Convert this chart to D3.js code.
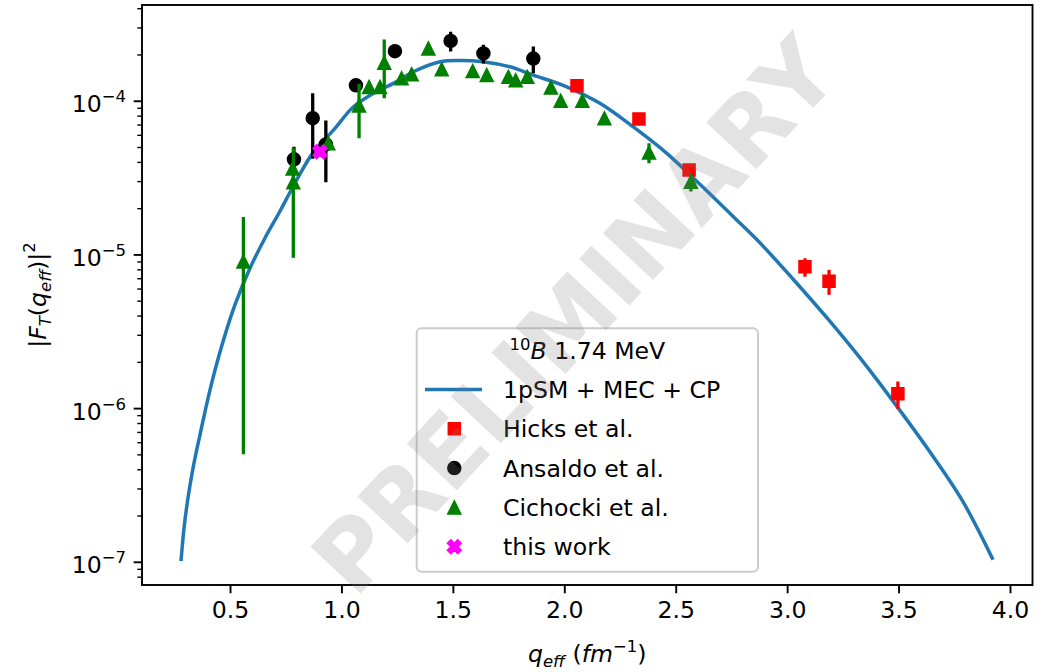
<!DOCTYPE html>
<html>
<head>
<meta charset="utf-8">
<script src="https://cdn.jsdelivr.net/npm/d3@7"></script>
<style>
  body { margin: 0; background: #fff; }
  text { font-family: "DejaVu Sans", sans-serif; }
</style>
</head>
<body>
<svg id="chart" width="1046" height="672"></svg>
<script>
// Theory: 1pSM + MEC + CP transverse form factor
const theoryQ = [0.280, 0.294, 0.312, 0.334, 0.365, 0.410, 0.464, 0.522, 0.590, 0.657,
  0.724, 0.799, 0.874, 0.964, 1.053, 1.143, 1.233, 1.323, 1.442, 1.530,
  1.635, 1.756, 1.860, 2.011, 2.160, 2.308, 2.460, 2.612, 2.788, 2.878, 3.026, 3.179,
  3.327, 3.475, 3.641, 3.785, 3.924];
const theoryF = [1.01e-7, 1.68e-7, 2.64e-7, 4.07e-7, 6.68e-7, 1.31e-6, 2.57e-6, 4.69e-6, 8.15e-6, 1.28e-5,
  1.91e-5, 3.05e-5, 4.63e-5, 6.44e-5, 9.10e-5, 1.117e-4, 1.297e-4, 1.545e-4, 1.795e-4, 1.83e-4,
  1.795e-4, 1.663e-4, 1.469e-4, 1.233e-4, 9.62e-5, 6.78e-5, 4.55e-5, 2.83e-5, 1.60e-5, 1.19e-5, 6.92e-6, 3.86e-6,
  2.12e-6, 1.11e-6, 5.18e-7, 2.52e-7, 1.03e-7];

// Hicks et al.
const hicksQ = [2.057, 2.335, 2.560, 3.080, 3.188, 3.497];
const hicksF = [1.25e-4, 7.6e-5, 3.54e-5, 8.3e-6, 6.7e-6, 1.24e-6];
const hicksErr = [5e-6, 3e-6, 2e-6, 1.14e-6, 1.24e-6, 2.5e-7];

// Ansaldo et al.
const ansaldoQ = [0.787, 0.871, 0.930, 1.065, 1.240, 1.490, 1.637, 1.861];
const ansaldoF = [4.16e-5, 7.7e-5, 5.2e-5, 1.26e-4, 2.1e-4, 2.45e-4, 2.03e-4, 1.88e-4];
const ansaldoErr = [8.6e-6, 3.5e-5, 2.25e-5, 8e-6, 1e-5, 3.6e-5, 2.8e-5, 3.7e-5];

// Cichocki et al.
const cichockiQ = [0.560, 0.781, 0.784, 0.941, 1.079, 1.124, 1.173, 1.192, 1.270, 1.315, 1.390,
  1.450, 1.589, 1.652, 1.749, 1.782, 1.834, 1.940, 1.984, 2.081, 2.180, 2.380, 2.568];
const cichockiF = [9.0e-6, 3.63e-5, 2.95e-5, 5.28e-5, 9.3e-5, 1.23e-4, 1.23e-4, 1.77e-4, 1.40e-4, 1.49e-4, 2.19e-4,
  1.60e-4, 1.56e-4, 1.47e-4, 1.43e-4, 1.36e-4, 1.43e-4, 1.22e-4, 1.00e-4, 1.00e-4, 7.68e-5, 4.60e-5, 2.97e-5];
const cichockiErr = [8.5e-6, 2e-6, 2.0e-5, 3e-6, 3.6e-5, 5e-6, 5e-6, 7.3e-5, 5e-6, 5e-6, 1.5e-5,
  4e-6, 4e-6, 4e-6, 4e-6, 4e-6, 4e-6, 4e-6, 3e-6, 3e-6, 3e-6, 6.8e-6, 4e-6];

// This work
const thisQ = [0.904];
const thisF = [4.65e-5];

const xTicks = [0.5, 1.0, 1.5, 2.0, 2.5, 3.0, 3.5, 4.0];
const yTicks = [1e-7, 1e-6, 1e-5, 1e-4];
const yTickExp = ["\u22127", "\u22126", "\u22125", "\u22124"];

const legendTitle = "1.74 MeV";
const legendLabels = ["1pSM + MEC + CP", "Hicks et al.", "Ansaldo et al.", "Cichocki et al.", "this work"];

const svg = d3.select("#chart");
svg.append("rect").attr("width", 1046).attr("height", 672).attr("fill", "#fff");

const L = 142, R = 1032.5, T = 5, B = 585;
const x = d3.scaleLinear().domain([0.105, 4.101]).range([L, R]);
const y = d3.scaleLog().domain([Math.pow(10, -7.151), Math.pow(10, -3.377)]).range([B, T]);

const FS = 23.6;

svg.append("clipPath").attr("id", "plotclip")
  .append("rect").attr("x", L).attr("y", T).attr("width", R - L).attr("height", B - T);

const plot = svg.append("g").attr("clip-path", "url(#plotclip)");

// theory curve
const line = d3.line().x((d, i) => x(theoryQ[i])).y(d => y(d)).curve(d3.curveCatmullRom.alpha(0.5));
plot.append("path").attr("d", line(theoryF))
  .attr("fill", "none").attr("stroke", "#1f77b4").attr("stroke-width", 3.5)
  .attr("stroke-linejoin", "round");

// marker shapes
const tri = s => `M0,${-s / 2}L${s / 2},${s / 2}L${-s / 2},${s / 2}Z`;
const sq = s => `M${-s / 2},${-s / 2}h${s}v${s}h${-s}Z`;
const circ = s => d3.symbol(d3.symbolCircle, Math.PI * s * s / 4)();
const cross = () => d3.symbol(d3.symbolCross, 120)();

function series(qs, fs, errs, color, shape, rot) {
  const g = plot.append("g");
  if (errs) {
    g.selectAll("line").data(qs).join("line")
      .attr("x1", d => x(d)).attr("x2", d => x(d))
      .attr("y1", (d, i) => y(fs[i] + errs[i]))
      .attr("y2", (d, i) => y(Math.max(fs[i] - errs[i], 1e-9)))
      .attr("stroke", color).attr("stroke-width", 3.3);
  }
  g.selectAll("path").data(qs).join("path")
    .attr("d", shape)
    .attr("transform", (d, i) => `translate(${x(d)},${y(fs[i])})` + (rot ? ` rotate(${rot})` : ""))
    .attr("fill", color).attr("stroke", color).attr("stroke-width", 1.5);
}

series(hicksQ, hicksF, hicksErr, "#ff0000", sq(12));
series(ansaldoQ, ansaldoF, ansaldoErr, "#000000", circ(13));
series(cichockiQ, cichockiF, cichockiErr, "#008000", tri(13));
series(thisQ, thisF, null, "#ff00ff", cross(), 45);

// axes
const xAxis = d3.axisBottom(x).tickValues(xTicks).tickSize(8.3).tickPadding(8.3).tickFormat(d3.format(".1f"));
const gx = svg.append("g").attr("transform", `translate(0,${B})`).call(xAxis);
gx.select(".domain").remove();
gx.selectAll(".tick line").attr("stroke", "#000").attr("stroke-width", 1.9);
gx.selectAll(".tick text").attr("font-size", FS).attr("fill", "#000")
  .attr("font-family", "DejaVu Sans");

const minor = [];
for (let e = -8; e <= -3; e++) for (let k = 2; k <= 9; k++) {
  const v = k * Math.pow(10, e);
  if (v >= y.domain()[0] && v <= y.domain()[1]) minor.push(v);
}
const gyMinor = svg.append("g").attr("transform", `translate(${L},0)`)
  .call(d3.axisLeft(y).tickValues(minor).tickSize(4.7).tickFormat(""));
gyMinor.select(".domain").remove();
gyMinor.selectAll(".tick line").attr("stroke", "#000").attr("stroke-width", 1.4);

const gy = svg.append("g").attr("transform", `translate(${L},0)`)
  .call(d3.axisLeft(y).tickValues(yTicks).tickSize(8.3).tickFormat(""));
gy.select(".domain").remove();
gy.selectAll(".tick line").attr("stroke", "#000").attr("stroke-width", 1.9);

yTicks.forEach((v, i) => {
  const t = svg.append("text").attr("x", 126).attr("y", y(v) + 11.5)
    .attr("text-anchor", "end").attr("font-size", FS).attr("fill", "#000");
  t.append("tspan").text("10");
  t.append("tspan").attr("dy", -10).attr("font-size", 16.5).text(yTickExp[i]);
});

// frame
svg.append("rect").attr("x", L).attr("y", T).attr("width", R - L).attr("height", B - T)
  .attr("fill", "none").attr("stroke", "#000").attr("stroke-width", 1.9);

// axis titles
const xl = svg.append("text").attr("x", (L + R) / 2).attr("y", 662)
  .attr("text-anchor", "middle").attr("font-size", FS).attr("fill", "#000");
xl.append("tspan").attr("font-style", "italic").text("q");
xl.append("tspan").attr("font-style", "italic").attr("font-size", 16.5).attr("dy", 5).text("eff");
xl.append("tspan").attr("dy", -5).text(" (");
xl.append("tspan").attr("font-style", "italic").text("fm");
xl.append("tspan").attr("font-size", 16.5).attr("dy", -10).text("\u22121");
xl.append("tspan").attr("dy", 10).text(")");

const yl = svg.append("text").attr("transform", `translate(46,${(T + B) / 2}) rotate(-90)`)
  .attr("text-anchor", "middle").attr("font-size", FS).attr("fill", "#000");
yl.append("tspan").text("|");
yl.append("tspan").attr("font-style", "italic").text("F");
yl.append("tspan").attr("font-style", "italic").attr("font-size", 16.5).attr("dy", 5).text("T");
yl.append("tspan").attr("dy", -5).text("(");
yl.append("tspan").attr("font-style", "italic").text("q");
yl.append("tspan").attr("font-style", "italic").attr("font-size", 16.5).attr("dy", 5).text("eff");
yl.append("tspan").attr("dy", -5).text(")|");
yl.append("tspan").attr("font-size", 16.5).attr("dy", -11).text("2");

// legend
const lg = svg.append("g");
lg.append("rect").attr("x", 416.7).attr("y", 328.3).attr("width", 341.3).attr("height", 243.4)
  .attr("rx", 5).attr("fill", "#fff").attr("fill-opacity", 0.8)
  .attr("stroke", "#cccccc").attr("stroke-width", 2);
const lt = lg.append("text").attr("x", 587.4).attr("y", 358.5).attr("text-anchor", "middle")
  .attr("font-size", FS).attr("fill", "#000");
lt.append("tspan").attr("font-size", 16.5).attr("dy", -9).text("10");
lt.append("tspan").attr("font-style", "italic").attr("dy", 9).text("B");
lt.append("tspan").text(" " + legendTitle);

const rowY = [389.5, 428.8, 468.1, 507.4, 546.7];
const mx = 454.3;
lg.append("line").attr("x1", 425).attr("x2", 482).attr("y1", rowY[0]).attr("y2", rowY[0])
  .attr("stroke", "#1f77b4").attr("stroke-width", 3.5);
const legendMarks = [
  { d: sq(12), c: "#ff0000" }, { d: circ(13), c: "#000000" },
  { d: tri(13), c: "#008000" }, { d: cross(), c: "#ff00ff", rot: 45 }];
legendMarks.forEach((m, i) => {
  lg.append("path").attr("d", m.d)
    .attr("transform", `translate(${mx},${rowY[i + 1]})` + (m.rot ? ` rotate(${m.rot})` : ""))
    .attr("fill", m.c).attr("stroke", m.c).attr("stroke-width", 1.5);
});
legendLabels.forEach((s, i) => {
  lg.append("text").attr("x", 503).attr("y", rowY[i] + 8.5).attr("font-size", FS)
    .attr("fill", "#000").text(s);
});

// watermark
svg.append("text").attr("transform", "translate(575,316) rotate(-47)")
  .attr("text-anchor", "middle").attr("dominant-baseline", "central")
  .attr("font-size", 94).attr("font-weight", "bold")
  .attr("fill", "#808080").attr("fill-opacity", 0.22)
  .text("PRELIMINARY");
</script>
</body>
</html>
